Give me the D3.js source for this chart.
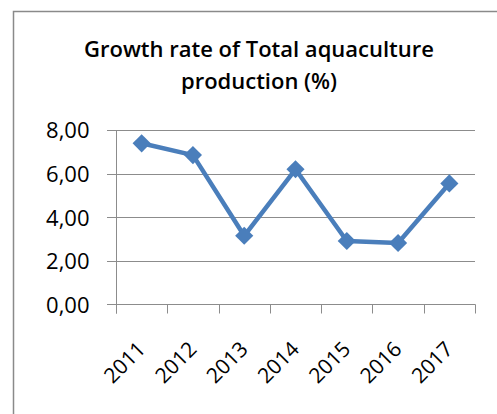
<!DOCTYPE html>
<html>
<head>
<meta charset="utf-8">
<script src="https://cdn.jsdelivr.net/npm/d3@7"></script>
<style>
  html, body { margin: 0; padding: 0; background: #fff; }
  svg { display: block; }
  text { font-family: "Open Sans", "Noto Sans", sans-serif; fill: #000; }
</style>
</head>
<body>
<svg id="chart" width="497" height="414"></svg>
<script>
const years = ["2011", "2012", "2013", "2014", "2015", "2016", "2017"];
const growth = [7.39, 6.85, 3.15, 6.2, 2.91, 2.82, 5.55];
const yTicks = [0, 2, 4, 6, 8];
const titleLines = ["Growth rate of Total aquaculture", "production (%)"];

const svg = d3.select("#chart");

// chart frame
svg.append("rect")
  .attr("x", 13.5).attr("y", 11.5)
  .attr("width", 520).attr("height", 430)
  .attr("fill", "#fff")
  .attr("stroke", "#8a8a8a").attr("stroke-width", 1.5);

const plot = { left: 116, right: 475, top: 130, bottom: 304.5 };

const x = d3.scaleBand().domain(years).range([plot.left, plot.right]).padding(0);
const y = d3.scaleLinear().domain([0, 8]).range([plot.bottom, plot.top]);

// title
svg.append("text")
  .attr("x", 259).attr("text-anchor", "middle")
  .attr("font-weight", 600).attr("font-size", 22)
  .selectAll("tspan").data(titleLines).join("tspan")
  .attr("x", 259)
  .attr("y", (d, i) => 57 + i * 32)
  .text(d => d);

// horizontal gridlines
svg.append("g")
  .selectAll("line").data(yTicks.filter(t => t > 0)).join("line")
  .attr("x1", plot.left - 9).attr("x2", plot.right)
  .attr("y1", d => Math.round(y(d)) + 0.5).attr("y2", d => Math.round(y(d)) + 0.5)
  .attr("stroke", "#8c8c8c").attr("stroke-width", 1);

// y axis
const yAxis = d3.axisLeft(y).tickValues(yTicks).tickSize(9).tickPadding(18)
  .tickFormat(d => d3.format(".2f")(d).replace(".", ","));
const gy = svg.append("g").attr("transform", `translate(${plot.left + 0.5},0)`).call(yAxis);
gy.select(".domain").remove();
gy.selectAll(".tick line").remove();
gy.selectAll(".tick text")
  .attr("font-size", 22).attr("font-family", "'Open Sans', sans-serif")
  .attr("fill", "#000").attr("dy", "0.36em")
  .attr("x", -27);
svg.append("line")
  .attr("x1", plot.left + 0.5).attr("x2", plot.left + 0.5)
  .attr("y1", plot.top).attr("y2", plot.bottom + 9)
  .attr("stroke", "#8c8c8c").attr("stroke-width", 1);

// x axis line + ticks
svg.append("line")
  .attr("x1", plot.left - 9).attr("x2", plot.right + 0.5)
  .attr("y1", plot.bottom).attr("y2", plot.bottom)
  .attr("stroke", "#8c8c8c").attr("stroke-width", 1.2);
const tickXs = years.map(d => x(d)).concat([x(years[years.length - 1]) + x.bandwidth()]);
svg.append("g").selectAll("line").data(tickXs).join("line")
  .attr("x1", d => Math.round(d) + 0.5).attr("x2", d => Math.round(d) + 0.5)
  .attr("y1", plot.bottom).attr("y2", plot.bottom + 9)
  .attr("stroke", "#8c8c8c").attr("stroke-width", 1);

// x labels rotated
svg.append("g").selectAll("text").data(years).join("text")
  .attr("transform", d => `translate(${x(d) + x.bandwidth() / 2 + 5},${plot.bottom + 46}) rotate(-45)`)
  .attr("text-anchor", "end")
  .attr("font-size", 21)
  .text(d => d);

// line
const pts = years.map((d, i) => [x(d) + x.bandwidth() / 2, y(growth[i])]);
svg.append("path")
  .attr("d", d3.line()(pts))
  .attr("fill", "none")
  .attr("stroke", "#4a7ebb").attr("stroke-width", 4.5)
  .attr("stroke-linejoin", "round");

// diamond markers
const diamond = d3.symbol().type(d3.symbolDiamond2).size(210);
svg.append("g").selectAll("path").data(pts).join("path")
  .attr("transform", d => `translate(${d[0]},${d[1]})`)
  .attr("d", diamond())
  .attr("fill", "#4a7ebb");
</script>
</body>
</html>
